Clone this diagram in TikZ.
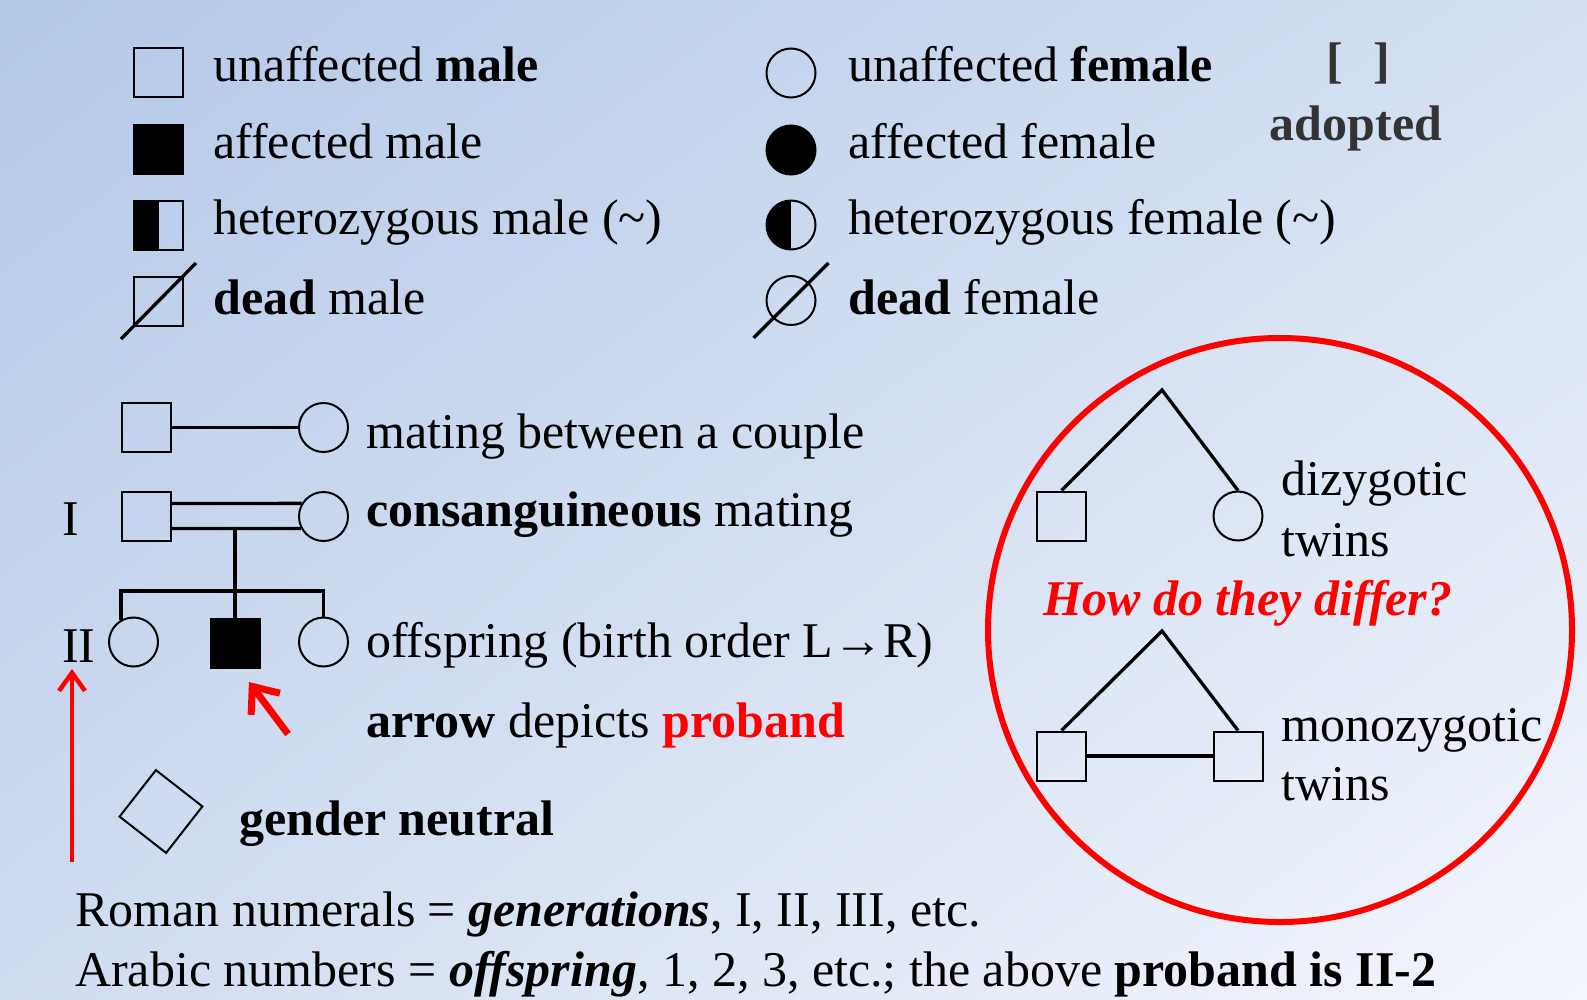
\documentclass[tikz,border=0pt]{standalone}
\usepackage{fontspec}
\setmainfont{Liberation Serif}
\usetikzlibrary{arrows.meta,calc,shadings}
\definecolor{bgUL}{RGB}{180,200,232}
\definecolor{bgUR}{RGB}{212,224,242}
\definecolor{bgLL}{RGB}{208,220,240}
\definecolor{bgLR}{RGB}{243,246,253}
\definecolor{pred}{RGB}{255,0,0}
\begin{document}
\begin{tikzpicture}[x=1pt,y=-1pt,
  sym/.style={draw, line width=2pt, inner sep=0pt, minimum size=49pt},
  msq/.style={sym, rectangle},
  fci/.style={sym, circle},
  lnk/.style={line width=3.3pt},
  txt/.style={anchor=base west, inner sep=0pt, font=\fontsize{50}{60}\selectfont},
  halfblk/.style={path picture={\fill[black] (path picture bounding box.north west) rectangle (path picture bounding box.south);}},
  redarrow/.style={draw=pred, line width=#1}
]
\shade[upper left=bgUL, upper right=bgUR, lower left=bgLL, lower right=bgLR] (0,0) rectangle (1587,999);
\useasboundingbox (0,0) rectangle (1587,999);

% legend: males
\node[msq] (m1) at (158.5,72.5) {};
\node[msq, fill=black] (m2) at (158.5,149) {};
\node[msq, halfblk] (m3) at (158.5,225) {};
\node[msq] (m4) at (158.5,301) {};
\draw[lnk] ($(m4.center)+(-37.5,38)$) -- ($(m4.center)+(37.5,-38)$);
\node[txt] (t1) at (213,81) {unaffected \textbf{male}};
\node[txt] (t2) at (213,158) {affected male};
\node[txt] (t3) at (213,234) {heterozygous male (\textasciitilde)};
\node[txt] (t4) at (213,314) {\textbf{dead} male};

% legend: females
\node[fci] (f1) at (791,73) {};
\node[fci, fill=black] (f2) at (791,150) {};
\node[fci, halfblk] (f3) at (791,225) {};
\node[fci] (f4) at (791,300.5) {};
\draw[lnk] ($(f4.center)+(-37.5,37.5)$) -- ($(f4.center)+(37.5,-37.5)$);
\node[txt] (u1) at (848,81) {unaffected \textbf{female}};
\node[txt] (u2) at (848,158) {affected female};
\node[txt] (u3) at (848,234) {heterozygous female (\textasciitilde)};
\node[txt] (u4) at (848,314) {\textbf{dead} female};

% adopted
\node[txt, anchor=base, text=black!80] (brl) at (1335,77.5) {\textbf{[}};
\node[txt, anchor=base, text=black!80] (brr) at (1382,77.5) {\textbf{]}};
\node[txt, anchor=base, text=black!80] (adp) at (1356,140) {\textbf{adopted}};

% mating
\node[msq] (ma) at (146.5,427.5) {};
\node[fci] (fa) at (323.5,427.5) {};
\draw[lnk] (ma) -- (fa);
\node[txt] (tma) at (366,448) {mating between a couple};

% consanguineous
\node[msq] (mb) at (146.5,516.5) {};
\node[fci] (fb) at (323.5,516.5) {};
\draw[lnk] ($(mb.east)+(0,-13)$) -- (fb.149);
\draw[lnk] ($(mb.east)+(0,12)$) -- (fb.208);
\node[txt] (tmb) at (366,526) {\textbf{consanguineous} mating};
\node[txt] (gI) at (62,535) {I};

% offspring
\coordinate (cpl) at ($(mb.east)!0.5!(fb.west)+(0,12)$);
\coordinate (sib) at (235,591);
\node[fci] (o1) at (133.5,642) {};
\node[msq, fill=black] (o2) at (235,643) {};
\node[fci] (o3) at (323.5,642) {};
\draw[lnk] (cpl) -- (sib);
\draw[lnk] (o1.119) -- (o1.119 |- sib) -- (o3.north |- sib) -- (o3.north);
\draw[lnk] (sib) -- (o2.north);
\node[txt] (gII) at (62,662) {II};
\node[txt] (toff) at (366,657) {offspring (birth order L→R)};
\node[txt] (tarr) at (366,737) {\textbf{arrow} depicts \textcolor{pred}{\textbf{proband}}};

% proband arrow
\coordinate (pbtail) at (288,734);
\coordinate (pbtip) at (249,682);
\draw[redarrow=7pt, -{Straight Barb[length=22pt,width=36pt]}] (pbtail) -- (pbtip);

% generation arrow
\coordinate (gtail) at (72,862);
\coordinate (gtip) at (72,669);
\draw[redarrow=4.5pt, -{Straight Barb[length=18pt,width=26pt]}] (gtail) -- (gtip);

% gender neutral
\node[sym, rectangle, rotate=52, minimum size=59pt] (gn) at (161,811.5) {};
\node[txt] (tgn) at (239,835) {\textbf{gender neutral}};

% twins circle
\draw[draw=pred, line width=6pt] (1280,630) circle[radius=292pt];
\node[msq] (dz1) at (1061.5,516) {};
\node[fci] (dz2) at (1238,516) {};
\coordinate (dza) at (1162,390);
\draw[lnk] (dz1.north) -- (dza) -- (dz2.north);
\node[txt] (tdz1) at (1281,495) {dizygotic};
\node[txt] (tdz2) at (1281,556) {twins};
\node[txt, anchor=base, text=pred] (hdd) at (1248,615) {\textbf{\textit{How do they differ?}}};
\node[msq] (mz1) at (1061.5,756) {};
\node[msq] (mz2) at (1238,756) {};
\coordinate (mza) at (1162,631);
\draw[lnk] (mz1.north) -- (mza) -- (mz2.north);
\draw[lnk] (mz1) -- (mz2);
\node[txt] (tmz1) at (1281,741) {monozygotic};
\node[txt] (tmz2) at (1281,800) {twins};

% bottom notes
\node[txt] (n1) at (75,926) {Roman numerals = \textbf{\textit{generations}}, I, II, III, etc.};
\node[txt] (n2) at (75,986) {Arabic numbers = \textbf{\textit{offspring}}, 1, 2, 3, etc.; the above \textbf{proband is II-2}};
\end{tikzpicture}
\end{document}
